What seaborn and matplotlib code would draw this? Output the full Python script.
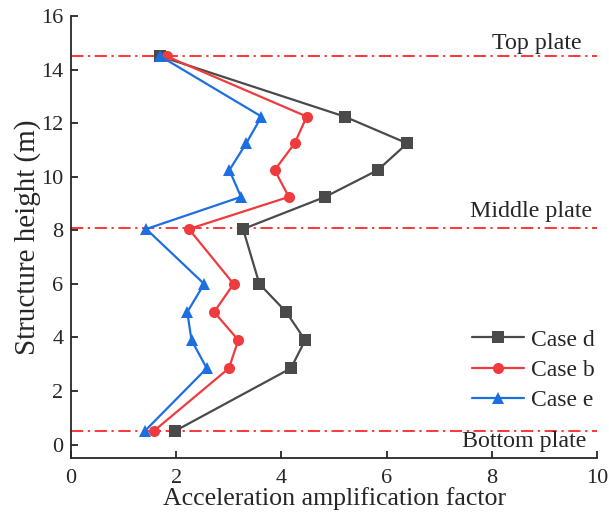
import seaborn as sns
import matplotlib.pyplot as plt
import pandas as pd

heights = [14.5, 12.25, 11.25, 10.25, 9.25, 8.05, 6.0, 4.95, 3.9, 2.85, 0.5]
case_d = [1.7, 5.2, 6.39, 5.83, 4.83, 3.27, 3.58, 4.09, 4.45, 4.18, 1.97]
case_b = [1.82, 4.48, 4.25, 3.87, 4.14, 2.24, 3.09, 2.72, 3.18, 3.0, 1.57]
case_e = [1.7, 3.62, 3.33, 3.01, 3.23, 1.43, 2.53, 2.21, 2.29, 2.58, 1.4]
cases = ["Case d", "Case b", "Case e"]
plates = [("Top plate", 14.5), ("Middle plate", 8.08), ("Bottom plate", 0.5)]

df = pd.concat([
    pd.DataFrame({"factor": v, "height": heights, "case": c})
    for c, v in zip(cases, [case_d, case_b, case_e])
])

sns.set_style("ticks")
plt.rcParams["font.family"] = ["Liberation Serif", "DejaVu Serif"]
plt.rcParams["xtick.direction"] = "in"
plt.rcParams["ytick.direction"] = "in"

fig = plt.figure(figsize=(6.09, 5.21), dpi=100)
ax = fig.add_axes([0.1166, 0.121, 0.864, 0.848])

palette = {"Case d": "#4a4a4a", "Case b": "#ef3b3e", "Case e": "#1c6fe0"}
markers = {"Case d": "s", "Case b": "o", "Case e": "^"}
sns.lineplot(data=df, x="factor", y="height", hue="case", style="case",
             palette=palette, markers=markers, dashes=False, sort=False,
             estimator=None, lw=1.6, markersize=8, markeredgewidth=0, ax=ax)

for name, y in plates:
    ax.axhline(y, color="red", ls=(0, (8, 3, 1.5, 3)), lw=1.1, zorder=1)

ax.text(9.7, 14.78, "Top plate", ha="right", va="baseline", fontsize=17.3)
ax.text(9.9, 8.5, "Middle plate", ha="right", va="baseline", fontsize=17.3)
ax.text(9.8, -0.1, "Bottom plate", ha="right", va="baseline", fontsize=17.3)

ax.set_xlim(0, 10)
ax.set_ylim(-0.5, 16)
ax.set_xticks(range(0, 11, 2))
ax.set_yticks(range(0, 17, 2))
ax.tick_params(labelsize=16, width=1.3, length=5)
ax.tick_params(axis="x", pad=8)
ax.tick_params(axis="y", pad=5.5)
ax.set_xlabel("Acceleration amplification factor", fontsize=18.6, labelpad=-1)
ax.set_ylabel("Structure height (m)", fontsize=21, labelpad=0)
for s in ["left", "bottom"]:
    ax.spines[s].set_linewidth(1.3)
sns.despine(ax=ax)

ax.legend(title=None, frameon=False, fontsize=17, loc="lower right",
          bbox_to_anchor=(1.035, 0.058), handlelength=2.2, labelspacing=0.37,
          handletextpad=0.3)

fig.savefig("out.png", dpi=100)
